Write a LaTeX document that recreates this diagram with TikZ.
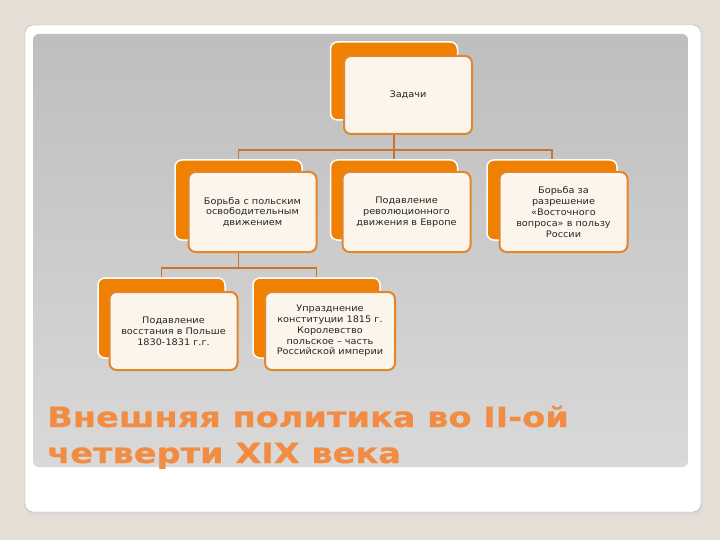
\documentclass[tikz,border=0pt]{standalone}
\usepackage{fontspec}
\setmainfont{DejaVu Sans}
\newfontfamily\titlefont[FakeStretch=1.2,FakeBold=0.6]{DejaVu Sans}
\newfontfamily\boxfont[FakeStretch=1.08]{DejaVu Sans}
\definecolor{bgc}{HTML}{E4DED4}
\definecolor{cardborder}{HTML}{A8A8A8}
\definecolor{panelTop}{HTML}{BEBEBE}
\definecolor{panelBot}{HTML}{D9D9D9}
\definecolor{boxorange}{HTML}{EF8000}
\definecolor{frontfill}{HTML}{FBF5EC}
\definecolor{frontborder}{HTML}{E2862E}
\definecolor{connc}{HTML}{C9732E}
\definecolor{titlec}{HTML}{F28C42}
\pgfdeclarelayer{bgl}
\pgfdeclarelayer{connl}
\pgfsetlayers{bgl,connl,main}
\begin{document}
\begin{tikzpicture}[x=1pt,y=-1pt,
  backbox/.style={draw=white, line width=1.5pt, fill=boxorange, rounded corners=7pt, minimum width=127pt, minimum height=78pt, inner sep=0pt},
  frontbox/.style={draw=frontborder, line width=2pt, fill=frontfill, rounded corners=7pt, minimum width=128pt, minimum height=78pt, inner sep=2pt, align=center, font=\boxfont\fontsize{9}{10.8}\selectfont, text=black!85},
  conn/.style={draw=connc, line width=1.5pt},
  titletext/.style={font=\titlefont\bfseries\fontsize{28}{34}\selectfont, text=titlec, inner sep=0pt}
  ]
\useasboundingbox (0,0) rectangle (720,540);
\begin{pgfonlayer}{bgl}
\fill[bgc] (0,0) rectangle (720,540);
\fill[black!15, rounded corners=8pt] (26,27) rectangle (702,515);
\draw[cardborder, fill=white, rounded corners=8pt] (25,25) rectangle (701,512);
\shade[top color=panelTop, bottom color=panelBot, rounded corners=6pt] (33,34) rectangle (688,467);
\end{pgfonlayer}

% top
\node[backbox] (tB) at (394,81) {};
\node[frontbox] (tF) at (408,95) {Задачи};
% level 2
\node[backbox, minimum height=80pt] (aB) at (238.5,200) {};
\node[frontbox, minimum height=80pt] (aF) at (252.5,212) {Борьба с польским\\освободительным\\движением};
\node[backbox, minimum height=80pt] (bB) at (394,200) {};
\node[frontbox, minimum height=80pt] (bF) at (406.5,212) {Подавление\\революционного\\движения в Европе};
\node[backbox, minimum height=80pt, minimum width=130pt] (cB) at (552,200) {};
\node[frontbox, minimum height=80pt] (cF) at (563.5,212) {Борьба за\\разрешение\\«Восточного\\вопроса» в пользу\\России};
% level 3
\node[backbox, minimum height=80pt] (dB) at (161.5,318) {};
\node[frontbox] (dF) at (173.5,331) {Подавление\\восстания в Польше\\1830-1831 г.г.};
\node[backbox, minimum height=80pt] (eB) at (316.5,318) {};
\node[frontbox, minimum width=130pt] (eF) at (330,331) {Упразднение\\конституции 1815 г.\\Королевство\\польское – часть\\Российской империи};

\begin{pgfonlayer}{connl}
\draw[conn] (tB.south) -- (tB.south |- 0,150) -| (aB.north);
\draw[conn] (tB.south |- 0,150) -| (cB.north);
\draw[conn] (tB.south) -- (bB.north);
\draw[conn] (aB.south) -- (aB.south |- 0,268) -| (dB.north);
\draw[conn] (aB.south |- 0,268) -| (eB.north);
\end{pgfonlayer}

\node[titletext, anchor=base west] (t1) at (47,427) {Внешняя политика во II-ой};
\node[titletext, anchor=base west] (t2) at (47,463) {четверти XIX века};
\end{tikzpicture}
\end{document}
